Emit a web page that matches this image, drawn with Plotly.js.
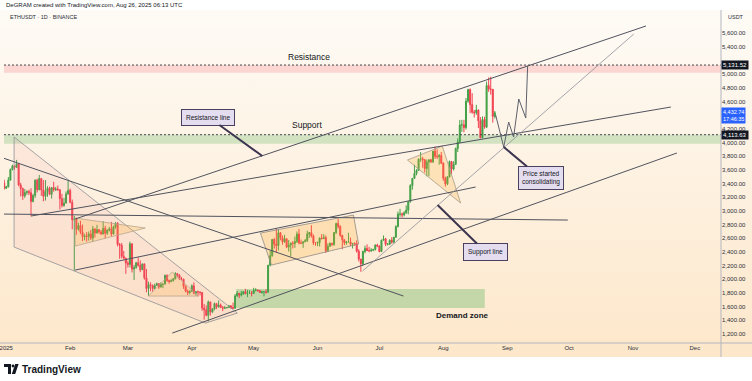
<!DOCTYPE html>
<html><head><meta charset="utf-8">
<script src="https://cdn.plot.ly/plotly-3.0.1.min.js"></script>
<style>
html,body{margin:0;padding:0;background:#fff;}
#wrap{position:relative;width:752px;height:381px;background:linear-gradient(to bottom,#ffffff 0px,#ffffff 10px,#fefbf6 10px,#fde7ca 357px,#ffffff 357px,#ffffff 381px);}
#chart{position:absolute;left:0;top:0;width:752px;height:381px;}
</style></head><body><div id="wrap"><div id="chart"></div></div>
<script>
// ---- Data (ETHUSDT daily, from 2024-12-31 to 2025-08-26) ----
const startDate = '2024-12-31';
const openDecJan = [3410,3332,3353,3451,3605,3657,3635,3686,3380,3327,3219,3268,3283,3266,3136,3225,3449,3310,3473,3307,3214,3283,3330,3242,3340,3310,3319,3308,3178,3078,3114,3248];
const highDecJan = [3455,3365,3495,3620,3675,3665,3745,3700,3410,3340,3320,3300,3310,3330,3250,3460,3470,3525,3480,3450,3450,3360,3355,3345,3425,3350,3370,3320,3250,3190,3285,3440];
const lowDecJan  = [3310,3320,3340,3440,3590,3600,3625,3360,3210,3160,3190,3235,3230,2920,3125,3190,3270,3300,3220,3140,3150,3205,3230,3180,3280,3290,3295,3020,3050,3060,3110,3235];
const closeDecJan= [3332,3353,3451,3605,3657,3635,3686,3380,3327,3219,3268,3283,3266,3136,3225,3449,3310,3473,3307,3214,3283,3330,3242,3340,3310,3319,3308,3178,3078,3114,3248,3300];

const openFeb = [3300,3125,2870,2880,2732,2786,2687,2622,2633,2627,2662,2604,2737,2676,2725,2693,2662,2744,2672,2718,2738,2662,2766,2820,2510,2496,2336,2309];
const highFeb = [3325,3165,2925,2900,2825,2855,2800,2665,2690,2700,2720,2780,2745,2795,2735,2720,2850,2780,2730,2765,2840,2785,2835,2835,2530,2530,2415,2315];
const lowFeb  = [3110,2730,2125,2650,2710,2660,2560,2570,2550,2565,2575,2550,2610,2670,2665,2650,2655,2600,2650,2700,2625,2655,2740,2480,2300,2305,2290,2080];
const closeFeb= [3125,2870,2880,2732,2786,2687,2622,2633,2627,2662,2604,2737,2676,2725,2693,2662,2744,2672,2718,2738,2662,2766,2820,2510,2496,2336,2309,2237];

const openMar = [2237,2218,2518,2149,2171,2241,2202,2140,2225,2020,1866,1921,1908,1864,1911,1937,1887,1928,1931,2057,1983,1966,1983,2007,2083,2064,2010,2002,1897,1827,1805];
const highMar = [2270,2550,2525,2210,2255,2320,2275,2230,2230,2150,1965,1955,1925,1935,1950,1940,1955,1935,2070,2070,1995,2000,2015,2105,2090,2070,2035,2010,1910,1850,1840];
const lowMar  = [2170,2175,2100,1990,2155,2185,2105,2135,1995,1810,1755,1825,1820,1860,1905,1860,1880,1870,1925,1960,1935,1960,1965,2000,2030,1990,1985,1860,1810,1770,1780];
const closeMar= [2218,2518,2149,2171,2241,2202,2140,2225,2020,1866,1921,1908,1864,1911,1937,1887,1928,1931,2057,1983,1966,1983,2007,2083,2064,2010,2002,1897,1827,1805,1822];

const openApr = [1822,1905,1796,1817,1816,1806,1580,1553,1473,1669,1521,1566,1645,1595,1623,1588,1577,1583,1588,1613,1587,1578,1757,1796,1770,1786,1819,1793,1799,1799];
const highApr = [1925,1955,1830,1835,1820,1815,1640,1620,1690,1670,1580,1660,1650,1690,1645,1610,1610,1595,1620,1615,1660,1785,1830,1800,1830,1825,1860,1845,1840,1830];
const lowApr  = [1820,1780,1760,1750,1765,1540,1410,1460,1385,1470,1505,1545,1565,1590,1580,1535,1565,1575,1580,1570,1565,1570,1745,1725,1750,1775,1780,1740,1785,1750];
const closeApr= [1905,1796,1817,1816,1806,1580,1553,1473,1669,1521,1566,1645,1595,1623,1588,1577,1583,1588,1613,1587,1578,1757,1796,1770,1786,1819,1793,1799,1799,1793];

const openMay = [1793,1838,1843,1833,1808,1816,1816,1811,2206,2345,2582,2514,2493,2680,2608,2547,2592,2471,2499,2528,2524,2551,2663,2529,2528,2550,2565,2663,2682,2633,2531];
const highMay = [1875,1870,1850,1845,1835,1830,1855,2210,2420,2590,2605,2740,2725,2690,2640,2650,2600,2575,2540,2560,2625,2700,2735,2580,2550,2590,2710,2690,2790,2655,2545];
const lowMay  = [1790,1825,1820,1800,1790,1750,1790,1808,2190,2330,2450,2390,2420,2570,2505,2535,2455,2405,2335,2450,2460,2530,2510,2520,2460,2540,2545,2605,2610,2500,2490];
const closeMay= [1838,1843,1833,1808,1816,1816,1811,2206,2345,2582,2514,2493,2680,2608,2547,2592,2471,2499,2528,2524,2551,2663,2529,2528,2550,2565,2663,2682,2633,2531,2528];

const openJun = [2528,2539,2604,2594,2610,2417,2483,2525,2510,2683,2815,2772,2643,2577,2535,2546,2548,2512,2524,2521,2411,2295,2227,2406,2450,2418,2418,2425,2436,2500];
const highJun = [2550,2610,2660,2660,2640,2525,2540,2535,2690,2830,2880,2790,2645,2585,2560,2680,2610,2530,2540,2570,2440,2300,2420,2490,2510,2475,2455,2445,2510,2520];
const lowJun  = [2485,2480,2585,2590,2385,2400,2475,2485,2490,2660,2740,2620,2440,2500,2505,2540,2485,2450,2490,2390,2260,2110,2200,2380,2420,2395,2400,2410,2420,2470];
const closeJun= [2539,2604,2594,2610,2417,2483,2525,2510,2683,2815,2772,2643,2577,2535,2546,2548,2512,2524,2521,2411,2295,2227,2406,2450,2418,2418,2425,2436,2500,2486];

const openJul = [2486,2405,2571,2591,2511,2514,2570,2542,2615,2770,2953,2956,2942,2972,3012,3134,3371,3475,3547,3591,3757,3760,3747,3619,3713,3747,3717,3873,3797,3791,3810];
const highJul = [2495,2580,2640,2605,2530,2585,2615,2620,2790,2990,3030,2975,2995,3080,3140,3390,3480,3675,3610,3765,3860,3790,3760,3750,3730,3760,3875,3940,3900,3830,3860];
const lowJul  = [2395,2400,2565,2485,2495,2500,2520,2525,2610,2760,2915,2905,2920,2955,2950,3120,3310,3470,3520,3585,3715,3630,3560,3505,3505,3700,3700,3760,3760,3675,3685];
const closeJul= [2405,2571,2591,2511,2514,2570,2542,2615,2770,2953,2956,2942,2972,3012,3134,3371,3475,3547,3591,3757,3760,3747,3619,3713,3747,3717,3873,3797,3791,3810,3697];

const openAug = [3697,3477,3395,3497,3721,3612,3680,3912,4010,4257,4258,4218,4603,4773,4553,4442,4434,4475,4317,4070,4336,4224,4832,4780,4777,4381];
const highAug = [3710,3500,3510,3735,3730,3725,3925,4060,4330,4330,4330,4650,4785,4790,4720,4475,4550,4480,4370,4380,4375,4890,4950,4960,4780,4460];
const lowAug  = [3440,3355,3375,3490,3540,3590,3670,3860,3990,4155,4150,4190,4580,4430,4420,4365,4405,4210,4060,4060,4200,4210,4740,4700,4290,4350];
const closeAug= [3477,3395,3497,3721,3612,3680,3912,4010,4257,4258,4218,4603,4773,4553,4442,4434,4475,4317,4070,4336,4224,4832,4780,4777,4381,4432.74];

const monthTickDates = ['2025-01-01','2025-02-01','2025-03-01','2025-04-01','2025-05-01','2025-06-01','2025-07-01','2025-08-01','2025-09-01','2025-10-01','2025-11-01','2025-12-01'];
const monthTickText  = ['2025','Feb','Mar','Apr','May','Jun','Jul','Aug','Sep','Oct','Nov','Dec'];
const priceTicks = [1200,1400,1600,1800,2000,2200,2400,2600,2800,3000,3200,3400,3600,3800,4000,4200,4600,4800,5000,5400,5600];
const resistanceLevel = 5131.52;
const supportLevel = 4113.63;
const lastPrice = 4432.74;

// ---- build ----
const open = [].concat(openDecJan,openFeb,openMar,openApr,openMay,openJun,openJul,openAug);
const high = [].concat(highDecJan,highFeb,highMar,highApr,highMay,highJun,highJul,highAug);
const low  = [].concat(lowDecJan,lowFeb,lowMar,lowApr,lowMay,lowJun,lowJul,lowAug);
const close= [].concat(closeDecJan,closeFeb,closeMar,closeApr,closeMay,closeJun,closeJul,closeAug);
const t0 = Date.parse(startDate+'T00:00:00Z');
const dates = close.map((_,i)=>new Date(t0+i*864e5).toISOString().slice(0,10));

const X0 = Date.UTC(2025,0,1);
function D(n){ return new Date(X0+n*864e5).toISOString().slice(0,19).replace('T',' '); }
function DP(n){ return D(n).replace(' ','_'); }
function poly(pts, closed){ return 'M'+pts.map(p=>DP(p[0])+','+p[1]).join('L')+(closed?'Z':''); }
function fx(px){ return (px-4)/717; }
function fy(py){ return (343-py)/333; }
function fmt(v){ return v.toLocaleString('en-US',{minimumFractionDigits:2,maximumFractionDigits:2}); }

const lineCol = '#50535e';
const shapes = [];
function seg(a,b,col,w,dash){ shapes.push({type:'line',xref:'x',yref:'y',x0:D(a[0]),y0:a[1],x1:D(b[0]),y1:b[1],line:{color:col||lineCol,width:w||1,dash:dash||'solid'},layer:'above'}); }

// zones
shapes.push({type:'rect',xref:'paper',yref:'y',x0:0,x1:1,y0:5020,y1:resistanceLevel,fillcolor:'rgba(242,54,69,0.17)',line:{width:0},layer:'below'});
shapes.push({type:'rect',xref:'paper',yref:'y',x0:0,x1:1,y0:3980,y1:supportLevel,fillcolor:'rgba(76,175,80,0.24)',line:{width:0},layer:'below'});
shapes.push({type:'line',xref:'paper',yref:'y',x0:0,x1:1,y0:resistanceLevel,y1:resistanceLevel,line:{color:'#434651',width:1,dash:'2px,2px'}});
shapes.push({type:'line',xref:'paper',yref:'y',x0:0,x1:1,y0:supportLevel,y1:supportLevel,line:{color:'#434651',width:1,dash:'2px,2px'}});
shapes.push({type:'rect',xref:'x',yref:'y',x0:D(111.6),x1:D(232.1),y0:1580,y1:1857,fillcolor:'rgba(76,175,80,0.32)',line:{width:0},layer:'below'});

// patterns
shapes.push({type:'path',xref:'x',yref:'y',path:poly([[3.8,4080],[112.1,1506],[96.6,1360],[3.8,2471]],true),fillcolor:'rgba(236,130,140,0.10)',line:{color:'#8f8f96',width:0.8},layer:'above'});
shapes.push({type:'path',xref:'x',yref:'y',path:poly([[33.4,2895],[67.4,2749],[33.4,2486]],true),fillcolor:'rgba(255,167,38,0.22)',line:{color:'#b8a58c',width:0.8},layer:'above'});
shapes.push({type:'path',xref:'x',yref:'y',path:poly([[68.9,1755],[80.5,2106],[93.2,1755]],true),fillcolor:'rgba(255,167,38,0.18)',line:{color:'#b8a58c',width:0.8},layer:'above'});
shapes.push({type:'path',xref:'x',yref:'y',path:poly([[123.3,2676],[168.4,2939],[170.9,2515],[128.6,2208]],true),fillcolor:'rgba(255,167,38,0.22)',line:{color:'#8f8a84',width:0.8},layer:'above'});
shapes.push({type:'path',xref:'x',yref:'y',path:poly([[194.6,3743],[211.5,3948],[220.4,3115]],true),fillcolor:'rgba(255,167,38,0.22)',line:{color:'#a89a88',width:0.8},layer:'above'});

// trend lines
seg([33.4,2881],[310.3,5702]);
seg([12.05,2925],[322.4,4518]);
seg([33.4,2135],[227.7,3349]);
seg([-3,2954],[272.4,2866]);
seg([-1.55,3773],[192.7,1755]);
seg([80.5,1214],[325.3,3846]);
seg([172.8,2120],[304.4,5585],'#8c8f98',0.8);
// projection path
shapes.push({type:'path',xref:'x',yref:'y',path:poly([[237.4,4401],[241.3,3933],[243.7,4299],[246.1,4080],[248.6,4635],[252,4357],[252.9,5118]],false),line:{color:'#5d606b',width:1},layer:'above'});

// frame separators
shapes.push({type:'line',xref:'paper',yref:'paper',x0:1,x1:1,y0:fy(357),y1:fy(10),line:{color:'#b2b5be',width:1}});
shapes.push({type:'line',xref:'paper',yref:'paper',x0:fx(0),x1:fx(752),y0:0,y1:0,line:{color:'#b2b5be',width:1}});

// TradingView logo (approx.)
shapes.push({type:'path',xref:'paper',yref:'paper',path:`M${fx(4)},${fy(364)}L${fx(11)},${fy(364)}L${fx(11)},${fy(374)}L${fx(8)},${fy(374)}L${fx(8)},${fy(367)}L${fx(4)},${fy(367)}Z`,fillcolor:'#131722',line:{width:0}});
shapes.push({type:'circle',xref:'paper',yref:'paper',x0:fx(11.6),x1:fx(14.4),y0:fy(367.4),y1:fy(364.6),fillcolor:'#131722',line:{width:0}});
shapes.push({type:'path',xref:'paper',yref:'paper',path:`M${fx(15.2)},${fy(364)}L${fx(18.6)},${fy(364)}L${fx(15.2)},${fy(374)}L${fx(11.8)},${fy(374)}Z`,fillcolor:'#131722',line:{width:0}});

const F = 'Liberation Sans, Arial, sans-serif';
const ann = [];
ann.push({xref:'paper',yref:'paper',x:0,y:fy(5),xanchor:'left',yanchor:'middle',showarrow:false,text:'DeGRAM created with TradingView.com, Aug 26, 2025 06:13 UTC',font:{family:F,size:6,color:'#131722'}});
ann.push({xref:'paper',yref:'paper',x:fx(8),y:fy(17),xanchor:'left',yanchor:'middle',showarrow:false,text:'ETHUSDT · 1D · BINANCE',font:{family:F,size:5.5,color:'#2a2e39'}});
ann.push({xref:'paper',yref:'paper',x:fx(736),y:fy(17),xanchor:'center',yanchor:'middle',showarrow:false,text:'USDT',font:{family:F,size:5.5,color:'#2a2e39'}});
ann.push({xref:'paper',yref:'paper',x:fx(309),y:fy(57),xanchor:'center',yanchor:'middle',showarrow:false,text:'Resistance',font:{family:F,size:8.5,color:'#131722'}});
ann.push({xref:'paper',yref:'paper',x:fx(307),y:fy(125),xanchor:'center',yanchor:'middle',showarrow:false,text:'Support',font:{family:F,size:8.5,color:'#131722'}});
ann.push({xref:'paper',yref:'paper',x:fx(462),y:fy(315),xanchor:'center',yanchor:'middle',showarrow:false,text:'<b>Demand zone</b>',font:{family:F,size:8,color:'#131722'}});
ann.push({xref:'paper',yref:'paper',x:fx(20),y:fy(369),xanchor:'left',yanchor:'middle',showarrow:false,text:'<b>TradingView</b>',font:{family:F,size:10,color:'#131722'}});
// callouts
const callout = {showarrow:true,arrowhead:0,arrowwidth:2,arrowcolor:'#3b3550',bgcolor:'#e4dcef',bordercolor:'#4a4060',borderwidth:1,borderpad:4,font:{family:F,size:6.5,color:'#131722'}};
ann.push(Object.assign({},callout,{xref:'x',yref:'y',x:D(124.2),y:3802,ax:-54,ay:-39,text:'Resistance line'}));
ann.push(Object.assign({},callout,{xref:'x',yref:'y',x:D(209.2),y:3085,ax:48,ay:47,text:'Support line'}));
ann.push(Object.assign({},callout,{xref:'x',yref:'y',x:D(241.3),y:3933,ax:37,ay:31,borderpad:3,text:'Price started<br>consolidating'}));
// price tags
ann.push({xref:'paper',yref:'y',x:1,y:resistanceLevel,xanchor:'left',yanchor:'middle',showarrow:false,text:fmt(resistanceLevel),bgcolor:'#131722',borderpad:1,font:{family:F,size:6,color:'#ffffff'}});
ann.push({xref:'paper',yref:'y',x:1,y:supportLevel,xanchor:'left',yanchor:'middle',showarrow:false,text:fmt(supportLevel),bgcolor:'#131722',borderpad:1,font:{family:F,size:6,color:'#ffffff'}});
ann.push({xref:'paper',yref:'y',x:1,y:lastPrice,xanchor:'left',yanchor:'middle',yshift:-3,showarrow:false,text:fmt(lastPrice)+'<br>17:46:35',bgcolor:'#2962ff',borderpad:1,font:{family:F,size:5.5,color:'#ffffff'}});

const trace = {type:'candlestick',x:dates,open:open,high:high,low:low,close:close,
  increasing:{line:{color:'#43a047',width:1},fillcolor:'#43a047'},
  decreasing:{line:{color:'#f23f4f',width:1},fillcolor:'#f23f4f'},
  whiskerwidth:0,hoverinfo:'skip',showlegend:false};

const layout = {
  width:752,height:381,margin:{l:4,r:31,t:10,b:38},
  paper_bgcolor:'rgba(0,0,0,0)',plot_bgcolor:'rgba(0,0,0,0)',
  showlegend:false,
  xaxis:{type:'date',range:[D(-1.1),D(346.7)],tickmode:'array',tickvals:monthTickDates,ticktext:monthTickText,ticklabeloverflow:'allow',
    tickfont:{family:F,size:6,color:'#2a2e39'},showgrid:false,zeroline:false,showline:false,ticks:'',rangeslider:{visible:false},fixedrange:true},
  yaxis:{side:'right',range:[1069,5936],tickmode:'array',tickvals:priceTicks,ticktext:priceTicks.map(fmt),
    tickfont:{family:F,size:6,color:'#2a2e39'},showgrid:false,zeroline:false,showline:false,ticks:'',fixedrange:true},
  shapes:shapes,annotations:ann
};
Plotly.newPlot('chart',[trace],layout,{displayModeBar:false,staticPlot:true});
</script></body></html>
